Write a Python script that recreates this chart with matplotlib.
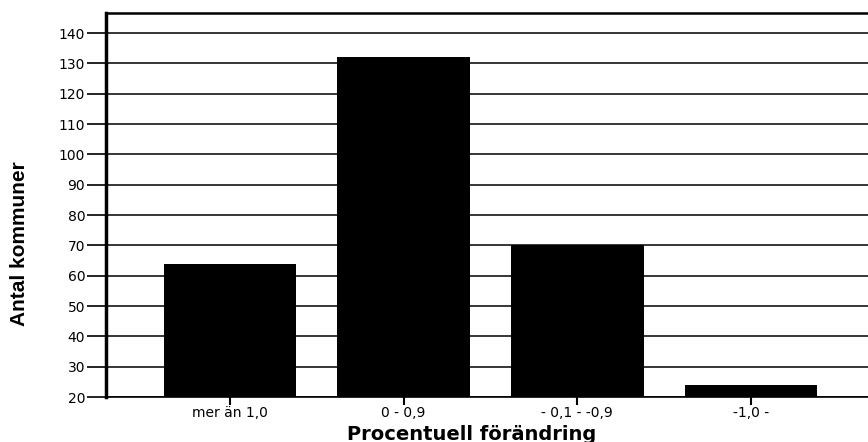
import matplotlib
matplotlib.use("Agg")
import matplotlib.pyplot as plt

# kategorier och antal kommuner
categories = ['mer än 1,0', '0 - 0,9', '- 0,1 - -0,9', '-1,0 -']
counts = [64, 132, 70, 24]
yticks = list(range(20, 141, 10))

plt.rcParams['font.family'] = ['DejaVu Sans']

fig = plt.figure(figsize=(8.68, 4.42), dpi=100)
ax = fig.add_axes([0.1221, 0.1018, 0.886, 0.8688])

x = range(len(categories))
ax.bar(x, [c - 20 for c in counts], bottom=20, width=0.765, color='black', zorder=3)

ax.set_ylim(20, 146.6)
ax.set_xlim(-0.714, 3.714)
ax.set_yticks(yticks)
ax.set_xticks(list(x))
ax.set_xticklabels(categories, fontsize=10)
ax.tick_params(axis='y', length=14, width=1.2, labelsize=10, pad=1, direction='out')
ax.tick_params(axis='x', length=6, width=1.5, labelsize=10, pad=0.5)
ax.yaxis.grid(True, color='black', linewidth=1.1, zorder=1)
ax.set_axisbelow(True)

ax.spines['left'].set_linewidth(2.5)
ax.spines['top'].set_linewidth(1.8)
ax.spines['bottom'].set_linewidth(1.2)
ax.spines['right'].set_visible(False)

ax.set_ylabel('Antal kommuner', fontsize=15, fontweight='bold',
              family=['Liberation Sans', 'DejaVu Sans'])
ax.yaxis.set_label_coords(-0.1, 0.40)
ax.set_xlabel('Procentuell förändring', fontsize=14, fontweight='bold')
ax.xaxis.set_label_coords(0.475, -0.072)

fig.savefig('out.png', dpi=100)
